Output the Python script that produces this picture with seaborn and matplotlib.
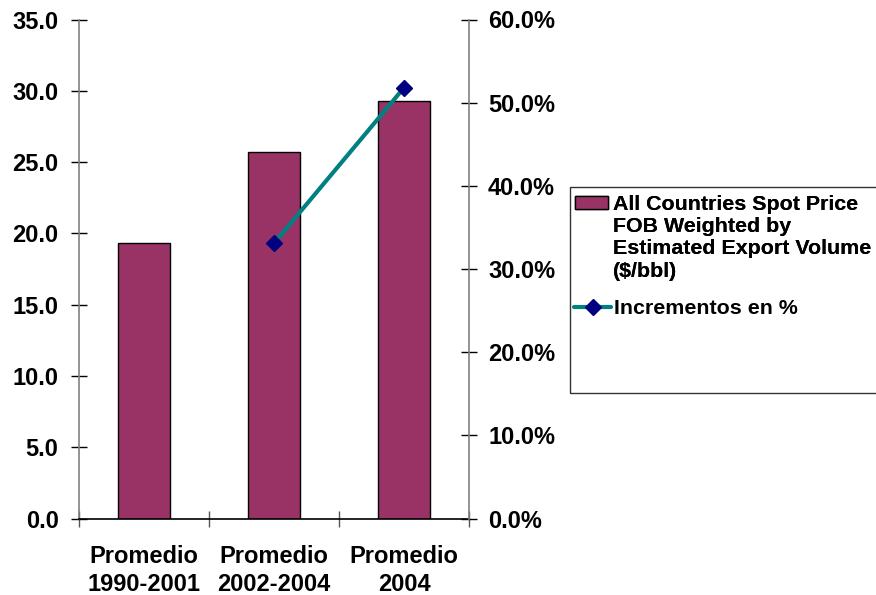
import matplotlib
matplotlib.use("Agg")
import matplotlib.pyplot as plt
import seaborn as sns
import pandas as pd
from matplotlib.patches import Rectangle
from matplotlib.lines import Line2D
from matplotlib.ticker import FuncFormatter, MultipleLocator, FixedLocator

categories = ["Promedio\n1990-2001", "Promedio\n2002-2004", "Promedio\n2004"]
prices = [19.3, 25.7, 29.3]
pct_categories = ["Promedio\n2002-2004", "Promedio\n2004"]
pct_values = [33.1, 51.8]

bar_label = "All Countries Spot Price\nFOB Weighted by\nEstimated Export Volume\n($/bbl)"
line_label = "Incrementos en %"

BAR_COLOR = "#993366"
LINE_COLOR = "#008080"
MARKER_COLOR = "#000080"

sns.set_style("white")
plt.rcParams["font.family"] = ["Liberation Sans", "DejaVu Sans"]
plt.rcParams["font.weight"] = "bold"
plt.rcParams["text.color"] = "black"
plt.rcParams["xtick.color"] = "black"
plt.rcParams["ytick.color"] = "black"
plt.rcParams["axes.labelcolor"] = "black"

W, H = 876, 595
fig = plt.figure(figsize=(W / 100, H / 100), dpi=100)
ax = fig.add_axes([79 / W, 1 - 518.5 / H, (469 - 79) / W, (518.5 - 19.5) / H])

df = pd.DataFrame({"cat": categories, "price": prices})
sns.barplot(data=df, x="cat", y="price", order=categories, color=BAR_COLOR,
            saturation=1, width=0.405, edgecolor="black", linewidth=1, ax=ax)
ax.set_xlim(-0.5, len(categories) - 0.5)
ax.set_ylim(0, 35)
ax.set_xlabel("")
ax.set_ylabel("")

ax2 = ax.twinx()
pos = [categories.index(c) for c in pct_categories]
dfl = pd.DataFrame({"x": pos, "y": pct_values})
sns.lineplot(data=dfl, x="x", y="y", ax=ax2, color=LINE_COLOR, linewidth=3,
             marker="D", markersize=8.5, markerfacecolor=MARKER_COLOR,
             markeredgecolor=MARKER_COLOR, markeredgewidth=1)
ax2.set_ylim(0, 60)
ax2.set_xlim(-0.5, len(categories) - 0.5)
ax2.set_xlabel("")
ax2.set_ylabel("")

# spines
for a in (ax, ax2):
    a.spines["top"].set_visible(False)
ax.spines["right"].set_visible(False)
ax2.spines["left"].set_visible(False)
ax2.spines["bottom"].set_visible(False)
ax.spines["left"].set_color("#808080")
ax2.spines["right"].set_color("#808080")
ax.spines["bottom"].set_color("black")
for s in (ax.spines["left"], ax2.spines["right"], ax.spines["bottom"]):
    s.set_linewidth(1.2)

# y ticks
ax.yaxis.set_major_locator(MultipleLocator(5))
ax.yaxis.set_major_formatter(FuncFormatter(lambda v, p: f"{v:.1f}"))
ax.tick_params(axis="y", direction="inout", length=11.5, width=1, color="black",
               pad=9, labelsize=17, left=True)
ax2.yaxis.set_major_locator(MultipleLocator(10))
ax2.yaxis.set_major_formatter(FuncFormatter(lambda v, p: f"{v:.1f}%"))
ax2.tick_params(axis="y", direction="inout", length=11.5, width=1, color="black",
                pad=8, labelsize=17, right=True)

# x ticks
ax.set_xticks(range(len(categories)))
ax.set_xticklabels(categories, fontsize=17, fontweight="bold", linespacing=1.3)
ax.tick_params(axis="x", which="major", length=0, pad=19)
ax.xaxis.set_minor_locator(FixedLocator([i - 0.5 for i in range(len(categories) + 1)]))
ax.tick_params(axis="x", which="minor", direction="inout", length=12, width=1,
               color="#555555", bottom=True)
for lab in ax.get_yticklabels() + ax2.get_yticklabels():
    lab.set_fontweight("bold")

# legend box
fig.patches.append(Rectangle((570 / W, 1 - 392.7 / H), (W + 5 - 570) / W, (392.7 - 186.7) / H,
                             transform=fig.transFigure, fill=False, edgecolor="#333333",
                             linewidth=1, figure=fig))

lines_txt = bar_label.split("\n")
bar_handle = Rectangle((0, 0), 1, 1, facecolor=BAR_COLOR, edgecolor="black", linewidth=1)
blank = [Rectangle((0, 0), 1, 1, visible=False) for _ in lines_txt[1:]]
legA = fig.legend([bar_handle] + blank, lines_txt, loc="upper left",
                  bbox_to_anchor=(575 / W, 1 - 195 / H), bbox_transform=fig.transFigure,
                  frameon=False, borderpad=0, borderaxespad=0, labelspacing=0.15,
                  handlelength=1.55, handleheight=0.62, handletextpad=0.23,
                  prop={"size": 15.4, "weight": "bold"})
line_handle = Line2D([], [], color=LINE_COLOR, linewidth=3, marker="D", markersize=8.5,
                     markerfacecolor=MARKER_COLOR, markeredgecolor=MARKER_COLOR)
legB = fig.legend([line_handle], [line_label], loc="upper left",
                  bbox_to_anchor=(574 / W, 1 - 299 / H), bbox_transform=fig.transFigure,
                  frameon=False, borderpad=0, borderaxespad=0,
                  handlelength=1.75, handletextpad=0.1,
                  prop={"size": 15.4, "weight": "bold"})
fig.add_artist(legA)

fig.savefig("out.png", dpi=100)
